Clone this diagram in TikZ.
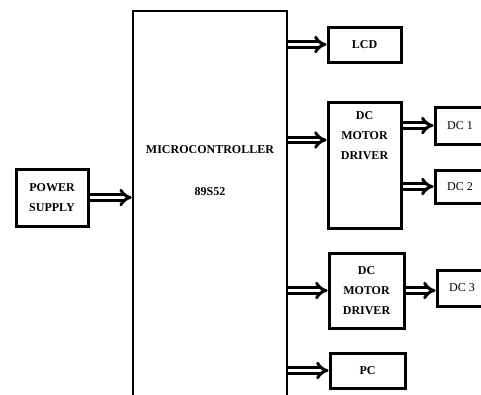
\documentclass[tikz,border=0pt]{standalone}
\usepackage{fontspec}
\setmainfont{Liberation Serif}
\usetikzlibrary{arrows.meta,positioning}

\begin{document}
\begin{tikzpicture}[
  x=1pt, y=-1pt,
  font=\bfseries\fontsize{12}{20}\selectfont,
  blk/.style={draw, line width=3pt, align=center, inner sep=1pt},
  mcu/.style={draw, line width=2.5pt},
  lbl/.style={align=center, inner sep=1pt},
  dcbox/.style={blk, font=\fontsize{12}{20}\selectfont, minimum width=50pt},
  bus/.style={double, double distance=2.5pt, line width=3pt, -{Implies}}
]
  \useasboundingbox[fill=white] (0,0) rectangle (481,394);
  \node[mcu, minimum width=154pt, minimum height=409pt] (micro) at (210,215.5) {};
  \node[lbl] (mctitle) at (210,150) {MICROCONTROLLER};
  \node[lbl] (mcpart) at (210,192) {89S52};
  \node[blk, minimum width=72pt, minimum height=57pt] (psu) at (52,197.5) {POWER\\SUPPLY};
  \node[blk, minimum width=73pt, minimum height=35pt] (lcd) at (364.5,44.5) {LCD};
  \node[blk, minimum width=73pt, minimum height=126pt] (drv1) at (364.5,165) {};
  \node[lbl, below=10pt of drv1.north] (drv1txt) {DC\\MOTOR\\DRIVER};
  \node[dcbox, minimum height=37pt] (dc1) at (460,125.5) {DC 1};
  \node[dcbox, minimum height=33pt] (dc2) at (460,186.5) {DC 2};
  \node[blk, minimum width=75pt, minimum height=75pt] (drv2) at (366.5,290.5) {DC\\MOTOR\\DRIVER};
  \node[dcbox, minimum height=36pt] (dc3) at (462,288) {DC 3};
  \node[blk, minimum width=75pt, minimum height=35pt] (pc) at (367.5,370.5) {PC};

  \draw[bus] (psu.east) -- (psu.east -| micro.west);
  \draw[bus] (micro.east |- lcd) -- (lcd.west);
  \draw[bus] (micro.east |- 0,140) -- ([yshift=25pt]drv1.west);
  \draw[bus] (drv1.east |- dc1) -- (dc1.west);
  \draw[bus] (drv1.east |- dc2) -- (dc2.west);
  \draw[bus] (micro.east |- drv2) -- (drv2.west);
  \draw[bus] (drv2.east) -- (drv2.east -| dc3.west);
  \draw[bus] (micro.east |- pc) -- (pc.west);
\end{tikzpicture}
\end{document}
